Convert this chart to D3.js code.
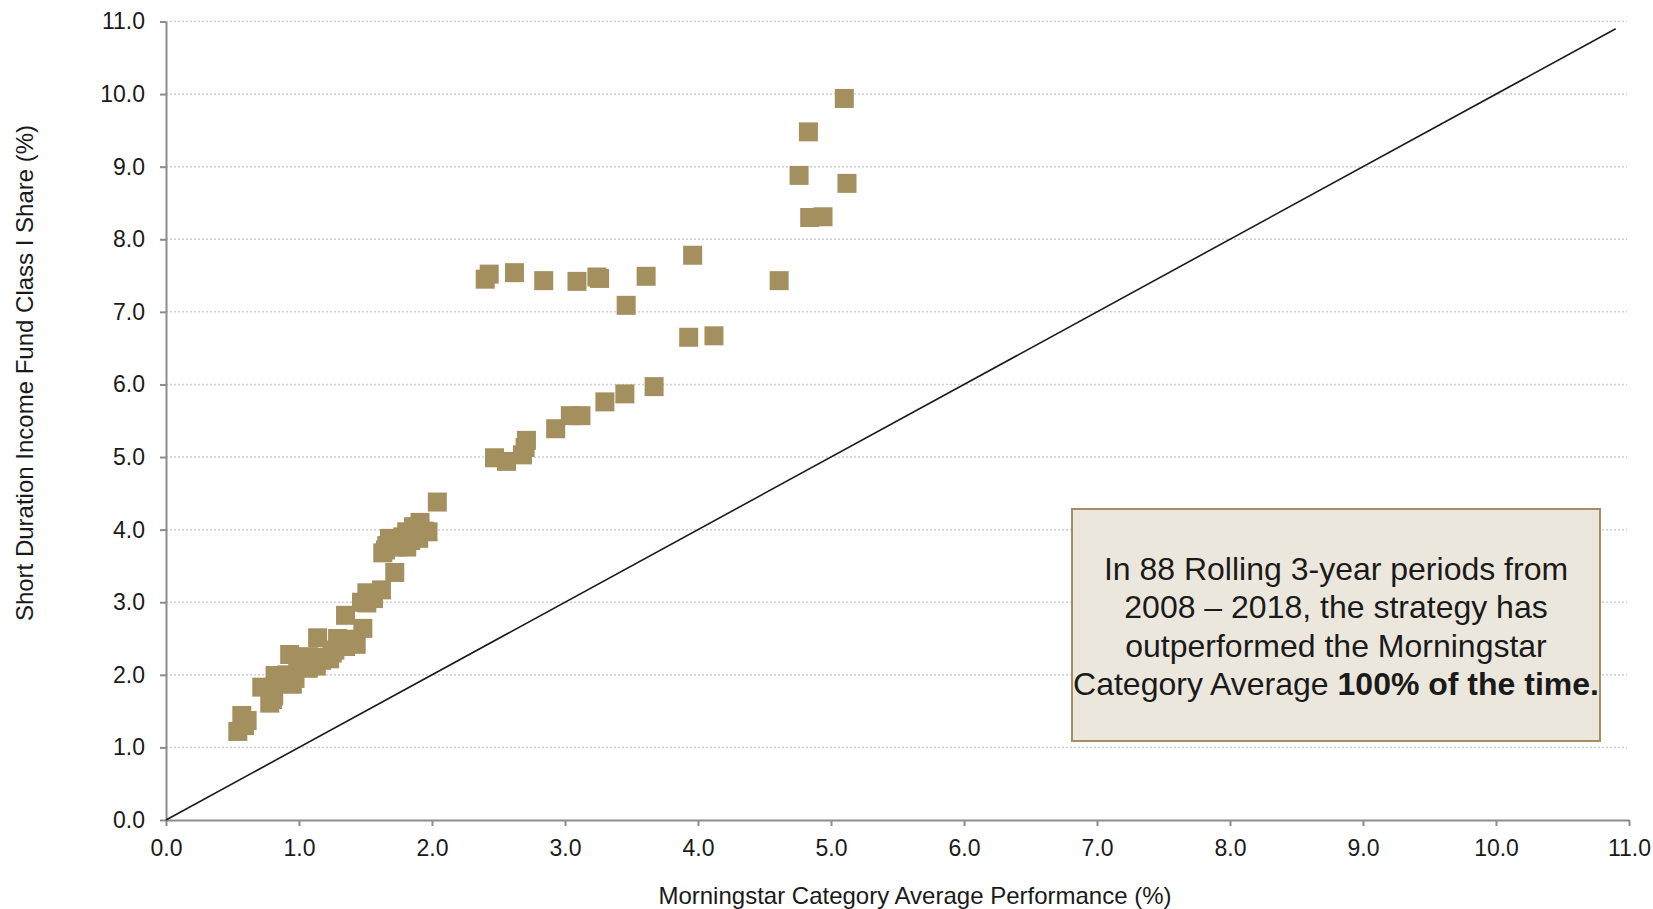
<!DOCTYPE html>
<html>
<head>
<meta charset="utf-8">
<script src="https://cdn.jsdelivr.net/npm/d3@7"></script>
<style>
  html, body { margin: 0; padding: 0; background: #ffffff; }
  svg { display: block; font-family: "Liberation Sans", Arial, sans-serif; }
</style>
</head>
<body>
<svg id="chart" width="1653" height="909"></svg>
<script>
// ---- Data ----
const benchmarkX = [
  0.54,0.57,0.61,0.59,0.72,0.78,0.81,0.80,0.82,0.85,0.89,0.91,0.93,0.95,0.97,0.99,1.00,1.03,
  1.07,1.07,1.10,1.13,1.14,1.17,1.20,1.23,1.25,1.27,1.29,1.32,1.35,1.35,1.40,1.43,1.48,1.47,
  1.51,1.51,1.56,1.62,1.63,1.65,1.66,1.68,1.72,1.73,1.76,1.78,1.81,1.81,1.84,1.86,1.89,1.90,
  1.91,1.94,1.97,2.04,
  2.47,2.56,2.68,2.70,2.71,2.93,3.04,3.12,3.30,3.45,3.67,3.93,4.12,
  2.40,2.43,2.62,2.84,3.09,3.26,3.24,3.46,3.61,3.96,4.61,4.76,4.83,4.84,4.94,5.10,5.12
];
const fundY = [
  1.22,1.44,1.37,1.30,1.83,1.61,1.71,1.66,1.99,1.90,1.95,2.00,2.28,1.87,1.95,2.15,2.20,2.10,
  2.25,2.09,2.18,2.12,2.51,2.20,2.24,2.22,2.30,2.34,2.50,2.45,2.39,2.82,2.49,2.42,2.64,3.00,
  2.99,3.13,3.05,3.17,3.68,3.72,3.78,3.88,3.41,3.76,3.83,3.90,3.76,3.97,3.85,4.04,4.04,3.88,
  4.10,3.98,3.97,4.38,
  4.99,4.94,5.03,5.13,5.23,5.39,5.57,5.57,5.76,5.87,5.97,6.65,6.67,
  7.45,7.52,7.54,7.43,7.42,7.46,7.48,7.09,7.49,7.78,7.43,8.88,9.48,8.30,8.31,9.94,8.77
];
const tickValues = [0,1,2,3,4,5,6,7,8,9,10,11];
const referenceLine = [[0,0],[10.9,10.9]];
const xTitle = "Morningstar Category Average Performance (%)";
const yTitle = "Short Duration Income Fund Class I Share (%)";
const noteLines = [
  [{t:"In 88 Rolling 3-year periods from", b:false}],
  [{t:"2008 \u2013 2018, the strategy has", b:false}],
  [{t:"outperformed the Morningstar", b:false}],
  [{t:"Category Average ", b:false},{t:"100% of the time.", b:true}]
];

(function () {
// ---- Layout ----
const svg = d3.select("#chart");
const pLeft = 166, pRight = 1629, pTop = 21.5, pBottom = 820;
const x = d3.scaleLinear().domain([0, 11]).range([pLeft, pRight]);
const y = d3.scaleLinear().domain([0, 11]).range([pBottom, pTop]);
const fmt = d3.format(".1f");
const axisColor = "#8c8c8c";
const markColor = "#a48f5f";

// gridlines
svg.append("g").selectAll("line").data(tickValues.filter(d => d > 0)).join("line")
  .attr("x1", pLeft).attr("x2", pRight - 2)
  .attr("y1", d => y(d)).attr("y2", d => y(d))
  .attr("stroke", "#cfcfcf").attr("stroke-width", 1.5)
  .attr("stroke-dasharray", "2,2");

// x axis
const gx = svg.append("g").attr("transform", `translate(0,${pBottom})`)
  .call(d3.axisBottom(x).tickValues(tickValues).tickFormat(fmt).tickSize(6).tickPadding(14).tickSizeOuter(0));
gx.select(".domain").attr("stroke", axisColor).attr("stroke-width", 2);
gx.selectAll(".tick line").attr("stroke", axisColor).attr("stroke-width", 2);
gx.selectAll(".tick text").attr("fill", "#1a1a1a").attr("font-size", 23)
  .attr("font-family", "Liberation Sans, Arial, sans-serif");

// y axis
const gy = svg.append("g").attr("transform", `translate(${pLeft},0)`)
  .call(d3.axisLeft(y).tickValues(tickValues).tickFormat(fmt).tickSize(6).tickPadding(15).tickSizeOuter(0));
gy.select(".domain").attr("stroke", axisColor).attr("stroke-width", 2);
gy.selectAll(".tick line").attr("stroke", axisColor).attr("stroke-width", 2);
gy.selectAll(".tick text").attr("fill", "#1a1a1a").attr("font-size", 23)
  .attr("font-family", "Liberation Sans, Arial, sans-serif");

// reference diagonal
svg.append("path")
  .attr("d", d3.line().x(d => x(d[0])).y(d => y(d[1]))(referenceLine))
  .attr("stroke", "#1a1a1a").attr("stroke-width", 1.6).attr("fill", "none");

// points
const pts = benchmarkX.map((v, i) => ({x: v, y: fundY[i]}));
const sym = d3.symbol().type(d3.symbolSquare).size(19 * 19);
svg.append("g").selectAll("path").data(pts).join("path")
  .attr("transform", d => `translate(${x(d.x)},${y(d.y)})`)
  .attr("d", sym)
  .attr("fill", markColor);

// axis titles
svg.append("text").attr("x", 915).attr("y", 904).attr("text-anchor", "middle")
  .attr("font-size", 24).attr("fill", "#1a1a1a").text(xTitle);
svg.append("text").attr("transform", "translate(33,373) rotate(-90)").attr("text-anchor", "middle")
  .attr("font-size", 24).attr("fill", "#1a1a1a").text(yTitle);

// note box
const bx = 1072, by = 509, bw = 528, bh = 232;
svg.append("rect").attr("x", bx).attr("y", by).attr("width", bw).attr("height", bh)
  .attr("fill", "#ebe7dd").attr("stroke", "#a48f5f").attr("stroke-width", 2);
const note = svg.append("text").attr("text-anchor", "middle").attr("font-size", 32).attr("fill", "#1a1a1a");
noteLines.forEach((line, i) => {
  const tl = note.append("tspan").attr("x", bx + bw / 2).attr("y", 580 + i * 38.3);
  line.forEach(seg => {
    tl.append("tspan").attr("font-weight", seg.b ? "bold" : "normal").text(seg.t);
  });
});
})();
</script>
</body>
</html>
